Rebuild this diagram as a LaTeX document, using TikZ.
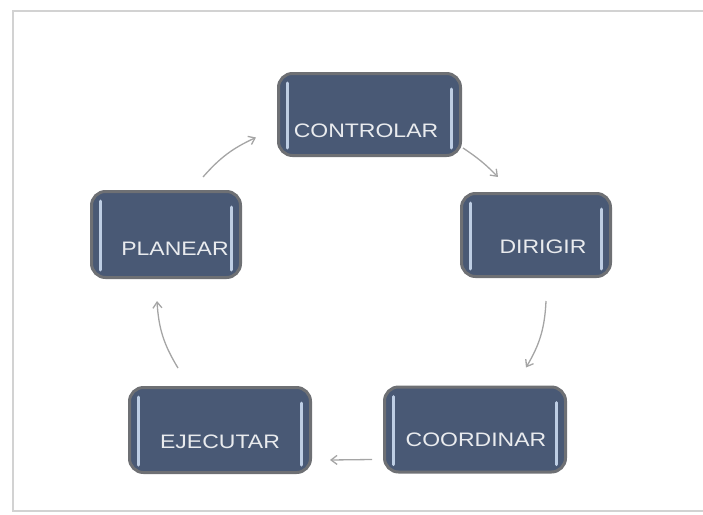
\documentclass[tikz,border=0pt]{standalone}
\usepackage{fontspec}
\setmainfont{Liberation Sans}
\usepackage{tikz}
\usetikzlibrary{arrows.meta}
\definecolor{boxblue}{RGB}{73,89,117}
\definecolor{boxrim}{RGB}{110,112,116}
\definecolor{glint}{RGB}{190,206,228}
\definecolor{arrgray}{RGB}{165,165,165}
\newcommand{\wide}[1]{\scalebox{1.18}[1]{#1}}

\begin{document}
\begin{tikzpicture}[x=1pt, y=-1pt,
box/.style={draw=boxrim, line width=3pt, fill=boxblue, rounded corners=14pt, inner sep=0pt},
lbl/.style={text=white!88!boxblue, font=\fontsize{19.5}{22}\selectfont, inner sep=0pt},
shine/.style={draw=glint, line width=3pt, line cap=round},
arr/.style={draw=arrgray, line width=1.3pt, -{Straight Barb[length=6pt,width=9pt]}}]
\useasboundingbox (0,0) rectangle (703,514);
% frame of the page
\draw[gray!35, line width=2pt] (703,511) -- (13,511) -- (13,11) -- (703,11);
% the five stages
\node[box, minimum width=182pt, minimum height=82pt] (ctrl) at (369.5,114.5) {};
\node[box, minimum width=149pt, minimum height=86pt] (plan) at (166,234.5) {};
\node[box, minimum width=149pt, minimum height=83pt] (dir) at (536,235) {};
\node[box, minimum width=181pt, minimum height=85pt] (coord) at (475,429.5) {};
\node[box, minimum width=181pt, minimum height=85pt] (ejec) at (220,430) {};
\foreach \n in {ctrl,plan,dir,coord,ejec}{
  \draw[shine] ([xshift=10pt,yshift=-11pt]\n.north west) -- ([xshift=10pt,yshift=9pt]\n.south west);
  \draw[shine] ([xshift=-11pt,yshift=-17pt]\n.north east) -- ([xshift=-11pt,yshift=9pt]\n.south east);
}
\node[lbl] (ctrl-t) at ([xshift=-3.5pt,yshift=-16pt]ctrl.center) {\wide{CONTROLAR}};
\node[lbl] (plan-t) at ([xshift=9pt,yshift=-14.5pt]plan.center) {\wide{PLANEAR}};
\node[lbl] (dir-t) at ([xshift=7pt,yshift=-12pt]dir.center) {\wide{DIRIGIR}};
\node[lbl] (coord-t) at ([xshift=1pt,yshift=-10.5pt]coord.center) {\wide{COORDINAR}};
\node[lbl] (ejec-t) at ([xshift=0pt,yshift=-12pt]ejec.center) {\wide{EJECUTAR}};
% the cycle
\draw[arr] ([xshift=37pt,yshift=13pt]plan.north) to[bend left=12] ([xshift=-21pt,yshift=-23pt]ctrl.west);
\draw[arr] ([xshift=1pt,yshift=9pt]ctrl.south east) to[bend left=6] ([xshift=-38pt,yshift=15pt]dir.north);
\draw[arr] ([xshift=10pt,yshift=-23pt]dir.south) to[bend left=14] ([xshift=51pt,yshift=18pt]coord.north);
\draw[arr] ([xshift=-11pt,yshift=-30pt]coord.west) -- ([xshift=18pt,yshift=-30pt]ejec.east);
\draw[arr] ([xshift=-42pt,yshift=18pt]ejec.north) to[bend left=14] ([xshift=-9pt,yshift=-22pt]plan.south);
\end{tikzpicture}
\end{document}
